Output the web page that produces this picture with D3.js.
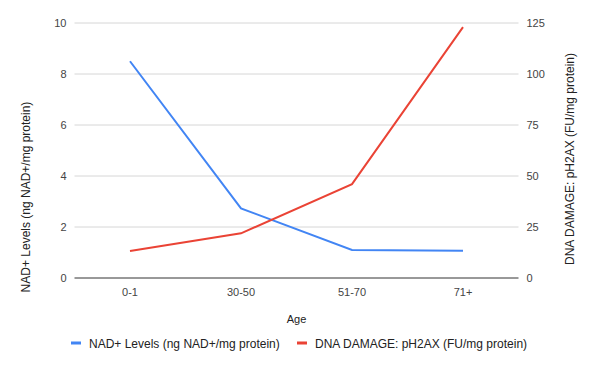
<!DOCTYPE html>
<html><head><meta charset="utf-8">
<script src="https://cdn.jsdelivr.net/npm/d3@7"></script>
<style>body{margin:0;background:#fff;}svg{display:block;font-family:Arial,"Liberation Sans",sans-serif;}</style>
</head><body>
<svg id="c" width="594" height="368"></svg>
<script>
const categories = ["0-1", "30-50", "51-70", "71+"];
const nadValues = [8.5, 2.73, 1.1, 1.07];
const dnaValues = [13.2, 21.9, 46, 123];
const leftTicks = [0, 2, 4, 6, 8, 10];
const rightTicks = [0, 25, 50, 75, 100, 125];
const seriesNames = ["NAD+ Levels (ng NAD+/mg protein)", "DNA DAMAGE: pH2AX (FU/mg protein)"];
const colors = ["#4285F4", "#EA4335"];

const svg = d3.select("#c");
const L = 74.5, R = 518.5, T = 23, B = 278;
const x = d3.scaleBand().domain(categories).range([L, R]);
const yL = d3.scaleLinear().domain([0, 10]).range([B, T]);
const yR = d3.scaleLinear().domain([0, 125]).range([B, T]);
const FF = "Arial, 'Liberation Sans', sans-serif";

// gridlines
svg.append("g").selectAll("line").data(leftTicks.filter(d => d > 0)).join("line")
  .attr("x1", L).attr("x2", R).attr("y1", d => yL(d)).attr("y2", d => yL(d))
  .attr("stroke", "#d6d6d6").attr("stroke-width", 1);

// left axis labels
const gl = svg.append("g").attr("transform", `translate(${L},0)`)
  .call(d3.axisLeft(yL).tickValues(leftTicks).tickSize(0).tickPadding(8));
gl.select(".domain").remove();
gl.selectAll("text").attr("fill", "#444").attr("font-size", 11).attr("font-family", FF);

const gr = svg.append("g").attr("transform", `translate(${R},0)`)
  .call(d3.axisRight(yR).tickValues(rightTicks).tickSize(0).tickPadding(8));
gr.select(".domain").remove();
gr.selectAll("text").attr("fill", "#444").attr("font-size", 11).attr("font-family", FF);

// baseline
svg.append("line").attr("x1", L).attr("x2", R).attr("y1", B).attr("y2", B)
  .attr("stroke", "#333").attr("stroke-width", 1);

// x axis labels
const gx = svg.append("g").attr("transform", `translate(0,${B})`)
  .call(d3.axisBottom(x).tickSize(0).tickPadding(10));
gx.select(".domain").remove();
gx.selectAll("text").attr("fill", "#444").attr("font-size", 11).attr("font-family", FF);

// lines
const cx = d => x(d) + x.bandwidth() / 2;
const lineL = d3.line().x((d, i) => cx(categories[i])).y(d => yL(d));
const lineR = d3.line().x((d, i) => cx(categories[i])).y(d => yR(d));
svg.append("path").datum(nadValues).attr("d", lineL).attr("fill", "none")
  .attr("stroke", colors[0]).attr("stroke-width", 2);
svg.append("path").datum(dnaValues).attr("d", lineR).attr("fill", "none")
  .attr("stroke", colors[1]).attr("stroke-width", 2);

// axis titles
svg.append("text").attr("transform", `translate(30,197) rotate(-90)`)
  .attr("text-anchor", "middle").attr("font-size", 12).attr("fill", "#222")
  .text(seriesNames[0]);
svg.append("text").attr("transform", `translate(574,159) rotate(-90)`)
  .attr("text-anchor", "middle").attr("font-size", 12).attr("fill", "#222")
  .text(seriesNames[1]);
svg.append("text").attr("x", (L + R) / 2).attr("y", 323).attr("text-anchor", "middle")
  .attr("font-size", 11).attr("fill", "#222").text("Age");

// legend
const legX = [71, 297];
seriesNames.forEach((n, i) => {
  svg.append("rect").attr("x", legX[i]).attr("y", 341.5).attr("width", 10).attr("height", 3).attr("fill", colors[i]);
  svg.append("text").attr("x", legX[i] + 18).attr("y", 347.5).attr("font-size", 12).attr("fill", "#222").text(n);
});
</script>
</body></html>
